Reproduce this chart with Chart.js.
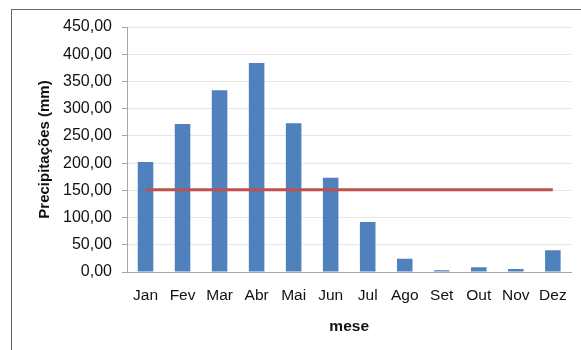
<!DOCTYPE html>
<html>
<head>
<meta charset="utf-8">
<script src="https://cdn.jsdelivr.net/npm/chart.js@4/dist/chart.umd.min.js"></script>
<style>
  html, body { margin: 0; padding: 0; background: #fff; overflow: hidden; }
  #frame { position: absolute; left: 11px; top: 9px; width: 640px; height: 400px;
           border: 1px solid #666; box-sizing: border-box; }
  #chart { position: absolute; left: 0; top: 0; }
</style>
</head>
<body>
<div id="frame"></div>
<canvas id="chart" width="581" height="350"></canvas>
<script>
// Monthly precipitation (mm)
const meses = ['Jan', 'Fev', 'Mar', 'Abr', 'Mai', 'Jun', 'Jul', 'Ago', 'Set', 'Out', 'Nov', 'Dez'];
const precipitacao = [202, 272, 334, 384, 273, 173, 92, 24.5, 3, 8.5, 5.5, 40];
// Mean precipitation line
const media = [151, 151, 151, 151, 151, 151, 151, 151, 151, 151, 151, 151];
const yTicks = { min: 0, max: 450, step: 50 };

const FONT = 'Liberation Sans, Arial, sans-serif';
const fmt = v => Number(v).toFixed(2).replace('.', ',');

new Chart(document.getElementById('chart'), {
  data: {
    labels: meses,
    datasets: [
      {
        type: 'line',
        data: media,
        borderColor: '#C0504D',
        borderWidth: 3,
        pointRadius: 0,
        fill: false,
        order: 0
      },
      {
        type: 'bar',
        data: precipitacao,
        backgroundColor: '#4F81BD',
        borderWidth: 0,
        barPercentage: 0.42,
        categoryPercentage: 1,
        order: 1
      }
    ]
  },
  options: {
    responsive: false,
    animation: false,
    events: [],
    layout: { padding: { top: 27, right: 9, bottom: 0, left: 0 } },
    plugins: { legend: { display: false }, tooltip: { enabled: false } },
    scales: {
      x: {
        offset: true,
        grid: { display: false, drawTicks: false },
        border: { display: true, color: '#a6a6a6', width: 1 },
        ticks: { color: '#111', font: { family: FONT, size: 15.5 }, padding: 14, maxRotation: 0 },
        title: {
          display: true, text: 'mese', color: '#111',
          font: { family: FONT, size: 15.5, weight: 'bold' },
          padding: { top: 0, bottom: 14 }
        },
        afterFit: s => { s.height = 350 - 272; }
      },
      y: {
        min: yTicks.min,
        max: yTicks.max,
        grid: { color: '#e6e6e6', lineWidth: 1, tickLength: 5, tickColor: '#a6a6a6' },
        border: { display: true, color: '#a6a6a6', width: 1 },
        ticks: {
          stepSize: yTicks.step, color: '#111', padding: 10,
          font: { family: FONT, size: 16 },
          callback: v => fmt(v)
        },
        title: {
          display: true, text: 'Precipitações (mm)', color: '#111',
          font: { family: FONT, size: 15, weight: 'bold' },
          padding: { top: 36, bottom: 0 }
        },
        afterFit: s => { s.width = 127; }
      }
    }
  }
});
</script>
</body>
</html>
